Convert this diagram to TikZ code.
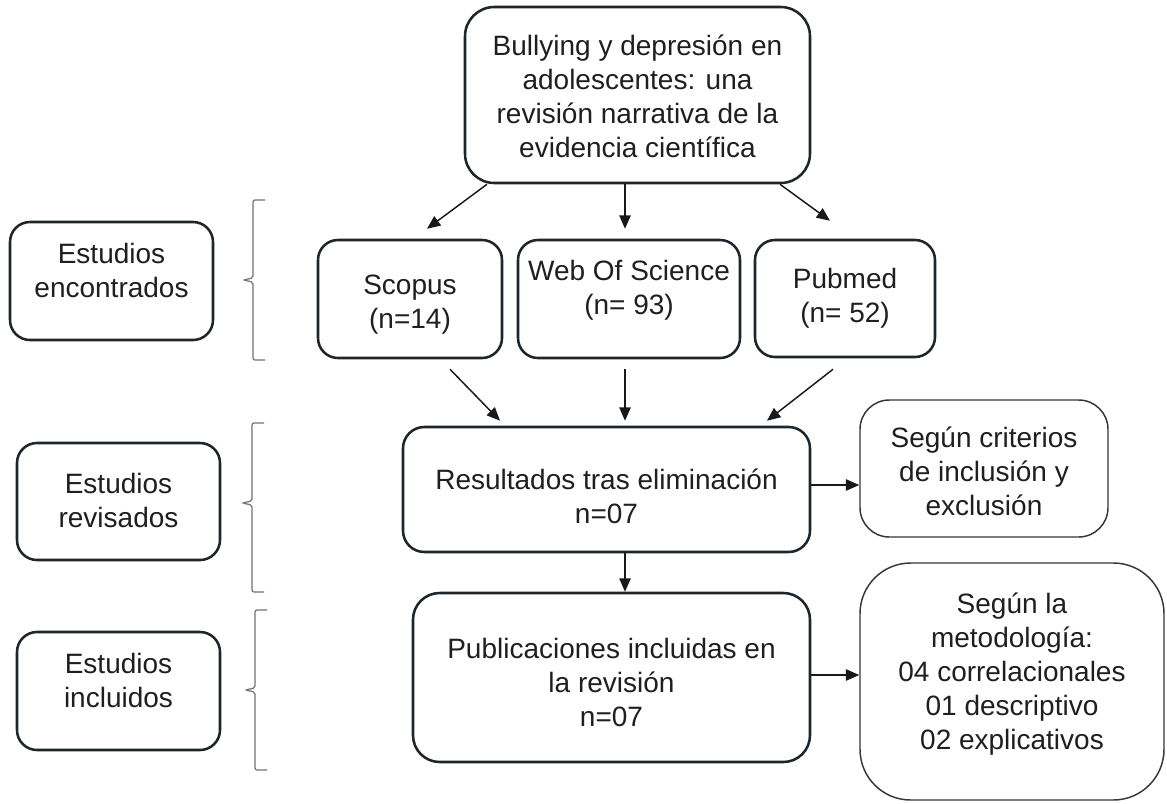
\documentclass[tikz,border=0pt]{standalone}
\usepackage{fontspec}
\setmainfont{Liberation Sans}
\usetikzlibrary{arrows.meta,calc,fit}
\definecolor{boxline}{RGB}{30,38,44}
\definecolor{thinline}{RGB}{55,55,55}
\begin{document}
\begin{tikzpicture}[x=0.75pt,y=-0.75pt,
  box/.style={draw=boxline, line width=1.9pt, rounded corners=#1, inner sep=0pt},
  box/.default=15pt,
  thinbox/.style={draw=thinline, line width=1.1pt, rounded corners=#1, inner sep=0pt},
  thinbox/.default=20pt,
  txt/.style={align=center, font=\fontsize{21}{25.5}\selectfont, inner sep=0pt, text=black!88},
  arr/.style={-{Triangle[length=10pt,width=8.5pt]}, line width=1.1pt, draw=black!90},
  bracket/.style={draw=black!55, line width=0.9pt, rounded corners=1.5pt}]
\useasboundingbox (0,0) rectangle (1167,803);
\fill[white] (0,0) rectangle (1167,803);

% boxes
\node[box=22pt, fit={(465,7) (810,183)}] (title) {};
\node[box, fit={(10,222) (213,340)}] (enc) {};
\node[box, fit={(17,443) (220,560)}] (rev) {};
\node[box, fit={(17,632) (220,750)}] (inc) {};
\node[box, fit={(318,240) (502,358)}] (scopus) {};
\node[box, fit={(518,240) (740,358)}] (wos) {};
\node[box, fit={(755,240) (935,357)}] (pubmed) {};
\node[box=16pt, fit={(403,427) (810,552)}] (res) {};
\node[thinbox=22pt, fit={(860,400) (1108,537)}] (crit) {};
\node[box=20pt, fit={(413,593) (810,762)}] (pub) {};
\node[thinbox=38pt, fit={(860,563) (1164,800)}] (met) {};

% texts
\node[txt] (titleT) at (637.5,96) {Bullying y depresión en\\adolescentes: una\\revisión narrativa de la\\evidencia científica};
\node[txt] (encT) at (111.5,270) {Estudios\\encontrados};
\node[txt] (revT) at (118.5,500) {Estudios\\revisados};
\node[txt] (incT) at (118.5,680) {Estudios\\incluidos};
\node[txt] (scopusT) at (410,305) {Scopus\\(n=14)};
\node[txt] (wosT) at (629,290) {Web Of Science\\(n= 93)};
\node[txt] (pubmedT) at (845,298) {Pubmed\\(n= 52)};
\node[txt] (resT) at (606.5,496) {Resultados tras eliminación\\n=07};
\node[txt] (critT) at (984,471) {Según criterios\\de inclusión y\\exclusión};
\node[txt] (pubT) at (611.5,682) {Publicaciones incluidas en\\la revisión\\n=07};
\node[txt] (metT) at (1012,674) {Según la\\metodología:\\04 correlacionales\\01 descriptivo\\02 explicativos};

% arrows
\draw[arr] ($(title.south)+(-150.5,0)$) -- ($(scopus.north)+(17,-10)$);
\draw[arr] ($(title.south)+(-12.5,0)$) -- ($(wos.north)+(-4,-10)$);
\draw[arr] ($(title.south)+(142.5,0)$) -- ($(pubmed.north)+(-15,-18)$);
\draw[arr] ($(scopus.south)+(40,10)$) -- ($(res.north)+(-106.5,-5)$);
\draw[arr] ($(wos.south)+(-4,10)$) -- ($(res.north)+(18.5,-5)$);
\draw[arr] ($(pubmed.south)+(-12,11)$) -- ($(res.north)+(160.5,-5)$);
\draw[arr] ($(res.east)+(0,-4.5)$) -- ($(crit.west)+(0,16.5)$);
\draw[arr] ($(res.south)+(18.5,0)$) -- ($(pub.north)+(13.5,0)$);
\draw[arr] ($(pub.east)+(0,-2.5)$) -- ($(met.west)+(0,-6.5)$);

% brackets
\draw[bracket] (265,200) -- (253,200) -- (253,278) -- (243,280) -- (253,282) -- (253,360) -- (265,360);
\draw[bracket] (264,423) -- (252,423) -- (252,501) -- (242,503) -- (252,505) -- (252,592) -- (264,592);
\draw[bracket] (267,610) -- (255,610) -- (255,688) -- (245,690) -- (255,692) -- (255,770) -- (267,770);
\end{tikzpicture}
\end{document}
